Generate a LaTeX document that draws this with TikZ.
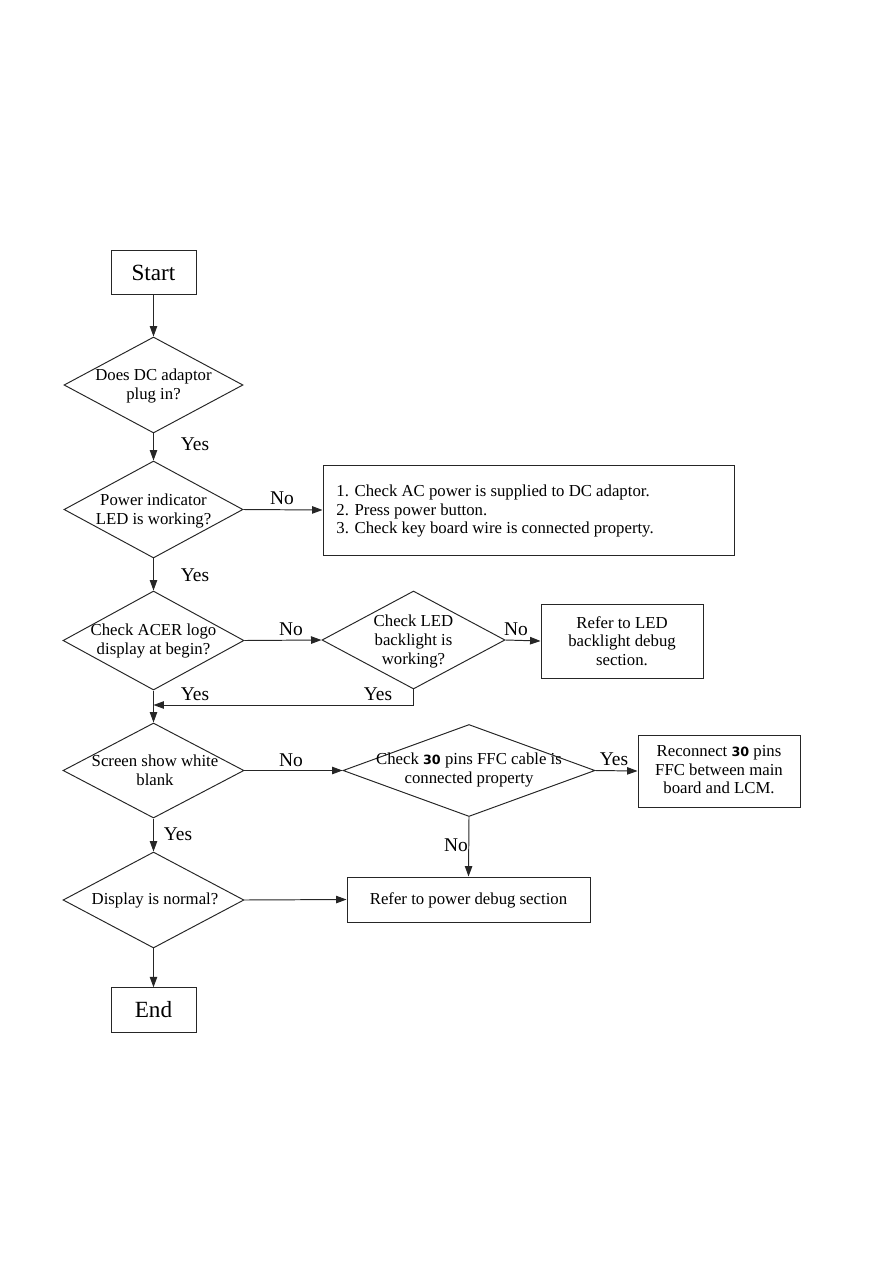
\documentclass[tikz,border=0pt]{standalone}
\usepackage{fontspec}
\setmainfont{Liberation Serif}
\newfontfamily\numfont{DejaVu Sans}
\usetikzlibrary{shapes.geometric,arrows.meta}
\newcommand{\thirty}{{\numfont\bfseries\fontsize{8.5}{10}\selectfont 30}}
\begin{document}
\begin{tikzpicture}[x=0.2349mm,y=-0.2349mm,
  line width=0.65pt,
  every node/.style={inner sep=0pt},
  term/.style={draw=black!85, rectangle, minimum width=19.97mm, minimum height=10.45mm, font=\fontsize{15.5}{17}\selectfont},
  box/.style={draw=black!85, rectangle},
  dia/.style={draw=black!85, diamond},
  dtxt/.style={align=center, font=\fontsize{11.2}{12.7}\selectfont},
  btxt/.style={align=center, font=\fontsize{11.2}{12.4}\selectfont},
  lbl/.style={font=\fontsize{13}{14}\selectfont},
  arr/.style={draw=black!85, -{Triangle[length=7pt,width=5pt]}}
]
\useasboundingbox (0,0) rectangle (894,1263);

% terminals
\node[term] (start) at (153.5,272.5) {Start};
\node[term] (end) at (153.5,1010) {End};

% decision 1
\node[dia, minimum width=42.05mm, minimum height=22.55mm] (d1) at (153.5,385) {};
\node[dtxt] (d1t) at (153.5,386) {Does DC adaptor\\plug in?};

% decision 2
\node[dia, minimum width=42.05mm, minimum height=22.78mm] (d2) at (153.5,509.5) {};
\node[dtxt] (d2t) at (153.5,511) {Power indicator\\LED is working?};

% AC box
\node[box, minimum width=96.54mm, minimum height=21.14mm] (ac) at (528.5,510) {};
\node[align=left, anchor=west, font=\fontsize{11.2}{12.1}\selectfont] (act) at (336,511)
 {1. Check AC power is supplied to DC adaptor.\\2. Press power button.\\3. Check key board wire is connected property.};

% decision 3
\node[dia, minimum width=42.5mm, minimum height=23.26mm] (d3) at (153.5,640.5) {};
\node[dtxt] (d3t) at (153.5,641) {Check ACER logo\\display at begin?};

% LED decision
\node[dia, minimum width=43mm, minimum height=23.02mm] (d3b) at (413.5,640) {};
\node[dtxt] (d3bt) at (413.5,641) {Check LED\\backlight is\\working?};

% LED box
\node[box, minimum width=38.05mm, minimum height=17.38mm] (led) at (622,641) {};
\node[btxt] (ledt) at (622,641) {Refer to LED\\backlight debug\\section.};

% decision 4
\node[dia, minimum width=42.5mm, minimum height=22.32mm] (d4) at (153.5,770.5) {};
\node[dtxt] (d4t) at (155,770) {Screen show white\\blank};

% FFC decision
\node[dia, minimum width=59.19mm, minimum height=21.61mm] (ffc) at (469,770.5) {};
\node[dtxt] (ffct) at (469,770) {Check \thirty\ pins FFC cable is\\connected property};

% Reconnect box
\node[box, minimum width=38.05mm, minimum height=16.91mm] (rec) at (719,771) {};
\node[btxt] (rect) at (719,770) {Reconnect \thirty\ pins\\FFC between main\\board and LCM.};

% Power debug box
\node[box, minimum width=57.08mm, minimum height=10.57mm] (pwr) at (468.5,899.5) {};
\node[btxt] (pwrt) at (468.5,900) {Refer to power debug section};

% decision 5
\node[dia, minimum width=42.5mm, minimum height=22.55mm] (d5) at (153.5,900) {};
\node[dtxt] (d5t) at (155,900) {Display is normal?};

\coordinate (m1) at (153.5,705);

% connectors
\draw[arr] (start.south) -- (d1.north);
\draw[arr] (d1.south) -- (d2.north);
\draw[arr] (d2.east) -- (ac.west);
\draw[arr] (d2.south) -- (d3.north);
\draw[arr] (d3.east) -- (d3b.west);
\draw[arr] (d3b.east) -- (led.west);
\draw[arr] (d3b.south) |- (m1);
\draw[arr] (d3.south) -- (d4.north);
\draw[arr] (d4.east) -- (ffc.west);
\draw[arr] (ffc.east) -- (rec.west);
\draw[arr] (ffc.south) -- (pwr.north);
\draw[arr] (d4.south) -- (d5.north);
\draw[arr] (d5.east) -- (pwr.west);
\draw[arr] (d5.south) -- (end.north);

% labels
\node[lbl] (l1) at (195,444) {Yes};
\node[lbl] (l2) at (282,498) {No};
\node[lbl] (l3) at (195,575) {Yes};
\node[lbl] (l4) at (291,629) {No};
\node[lbl] (l5) at (516,629) {No};
\node[lbl] (l6) at (195,694) {Yes};
\node[lbl] (l7) at (378,694) {Yes};
\node[lbl] (l8) at (291,760) {No};
\node[lbl] (l9) at (614,759) {Yes};
\node[lbl] (l10) at (456,845) {No};
\node[lbl] (l11) at (178,834) {Yes};
\end{tikzpicture}
\end{document}
